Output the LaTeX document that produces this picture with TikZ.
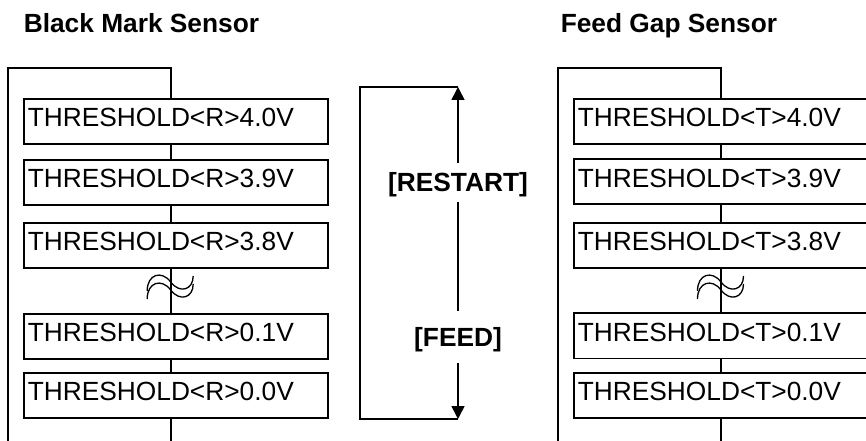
\documentclass[tikz,border=0pt]{standalone}
\usepackage{fontspec}
\setmainfont{Liberation Sans}
\usetikzlibrary{arrows.meta}
\newcommand{\boxfont}{\fontsize{26.3bp}{30bp}\selectfont}
\newcommand{\boldfont}{\fontsize{26.3bp}{30bp}\selectfont\bfseries}
\begin{document}
\begin{tikzpicture}[x=1bp,y=-1bp,line width=1.6bp,
  box/.style={draw,text width=296bp,inner xsep=4bp,inner ysep=0pt,minimum height=45bp,
    text height=18.7bp,text depth=8bp,align=left,anchor=north west,font=\boxfont},
  lbl/.style={inner sep=0pt,text height=18.7bp,text depth=0pt,font=\boldfont},
  ttl/.style={inner sep=0pt,anchor=base west,font=\boldfont},
  tip/.style={-{Triangle[length=13bp,width=13bp]}},
  wavesym/.pic={
    \draw[line width=1.3bp] (-23.5,9) .. controls (-23.5,-8) and (-9,-12) .. (0,0)
          .. controls (9,12) and (22.5,8) .. (22.5,-6);
    \draw[line width=1.3bp] (-23.5,17) .. controls (-23.5,0) and (-9,-4) .. (0,8)
          .. controls (9,20) and (22.5,16) .. (22.5,2);
  }]
\useasboundingbox (0,0) rectangle (866,441);
\clip (0,0) rectangle (866,441);

% titles
\node[ttl] (t1) at (23,33) {Black Mark Sensor};
\node[ttl] (t2) at (560,33) {Feed Gap Sensor};

% left panel
\node[box] (L1) at (23,98)  {THRESHOLD<R>4.0V};
\node[box] (L2) at (23,159) {THRESHOLD<R>3.9V};
\node[box] (L3) at (23,222) {THRESHOLD<R>3.8V};
\node[box] (L4) at (23,313) {THRESHOLD<R>0.1V};
\node[box] (L5) at (23,372) {THRESHOLD<R>0.0V};
\coordinate (LFbl) at (8,445);
\coordinate (LFtl) at (8,68);
\coordinate (LFtr) at (170.7,68);
\draw (LFbl) -- (LFtl) -- (LFtr) -- (LFtr |- L1.north);
\draw (L1.south -| LFtr) -- (L2.north -| LFtr);
\draw (L2.south -| LFtr) -- (L3.north -| LFtr);
\draw (L3.south -| LFtr) -- (L4.north -| LFtr);
\draw (L4.south -| LFtr) -- (L5.north -| LFtr);
\draw (L5.south -| LFtr) -- (LFtr |- LFbl);
\pic at (170.7,282) {wavesym};

% middle
\coordinate (Mtl) at (360,87);
\coordinate (Mbl) at (360,419);
\coordinate (Mtr) at (458,87);
\coordinate (Mbr) at (458,419);
\node[lbl,minimum height=37bp] (restart) at (458,182.5) {[RESTART]};
\node[lbl,minimum height=50bp] (feed) at (458,337) {[FEED]};
\draw (Mtr) -- (Mtl) -- (Mbl) -- (Mbr);
\draw[tip] (restart) -- (Mtr);
\draw (restart) -- (feed);
\draw[tip] (feed) -- (Mbr);

% right panel
\node[box] (R1) at (573,98)  {THRESHOLD<T>4.0V};
\node[box] (R2) at (573,158.5) {THRESHOLD<T>3.9V};
\node[box] (R3) at (573,222) {THRESHOLD<T>3.8V};
\node[box] (R4) at (573,312.5) {THRESHOLD<T>0.1V};
\node[box] (R5) at (573,372) {THRESHOLD<T>0.0V};
\coordinate (RFbl) at (558,445);
\coordinate (RFtl) at (558,68);
\coordinate (RFtr) at (721,68);
\draw (RFbl) -- (RFtl) -- (RFtr) -- (RFtr |- R1.north);
\draw (R1.south -| RFtr) -- (R2.north -| RFtr);
\draw (R2.south -| RFtr) -- (R3.north -| RFtr);
\draw (R3.south -| RFtr) -- (R4.north -| RFtr);
\draw (R4.south -| RFtr) -- (R5.north -| RFtr);
\draw (R5.south -| RFtr) -- (RFtr |- RFbl);
\pic at (721,282) {wavesym};
\end{tikzpicture}
\end{document}
